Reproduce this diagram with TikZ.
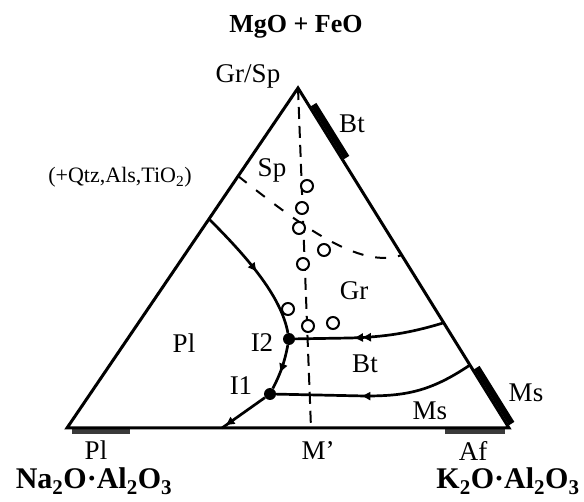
\documentclass[tikz,border=0pt]{standalone}
\usepackage{fontspec}
\setmainfont{Liberation Serif}
\usetikzlibrary{arrows.meta,decorations.markings,calc}
\definecolor{ink}{HTML}{000000}
\definecolor{barfill}{HTML}{3A3A3A}
\tikzset{
  edge/.style={draw=ink, line width=3pt},
  field/.style={draw=ink, line width=2.7pt},
  tie/.style={draw=ink, line width=2pt, dash pattern=on 12pt off 7pt},
  sptie/.style={draw=ink, line width=2pt, dash pattern=on 11pt off 12pt},
  solidbar/.style={draw=ink, line width=6.5pt},
  sample/.style={circle, draw=ink, fill=white, line width=2pt, minimum size=12pt, inner sep=0pt},
  inv/.style={circle, fill=ink, minimum size=12pt, inner sep=0pt},
  lbl/.style={font=\fontsize{27}{30}\selectfont, inner sep=0pt, anchor=base},
  note/.style={font=\fontsize{22}{25}\selectfont, inner sep=0pt, anchor=base},
  ttl/.style={font=\fontsize{26}{29}\selectfont\bfseries, inner sep=0pt, anchor=base},
  oxide/.style={font=\fontsize{30}{33}\selectfont\bfseries, inner sep=0pt, anchor=base},
  flow/.style={postaction={decorate, decoration={markings, mark=at position #1 with {\arrow{Triangle[length=8pt,width=8pt]}}}}},
  flowtwo/.style={postaction={decorate, decoration={markings, mark=at position #1 with {\arrow{Triangle[length=8pt,width=8pt] Triangle[length=8pt,width=8pt]}}}}}
}
\begin{document}
\begin{tikzpicture}[x=1pt, y=-1pt]
\useasboundingbox (0,0) rectangle (584,502);
\coordinate (vtop) at (298,88);
\coordinate (vna) at (67,428);
\coordinate (vk) at (509,428);
\coordinate (mpB) at (311,428);
\coordinate (spL) at (238,176);
\coordinate (spR) at (402,255);
\coordinate (plE) at (209,219);
\coordinate (btE) at (443,323);
\coordinate (msE) at (470,365);
\coordinate (plB) at (222,428);
\fill[barfill] (72,428) rectangle (130,434);
\fill[barfill] (445,428) rectangle (505,434);
\draw[solidbar] (313.6,104.6) -- (346.5,157.6);
\draw[solidbar] (476.8,367.6) -- (511.6,423.6);
\draw[edge] (vtop) -- (vk) -- (vna) -- cycle;
\draw[tie] (vtop) -- (mpB);
\draw[sptie] (spL) .. controls (300,225) and (360,270) .. (spR);
\node[inv] (I2) at (289,339) {};
\node[inv] (I1) at (270,394) {};
\draw[field, flow=0.5] (plE) .. controls (245,255) and (281,295) .. (I2);
\draw[field, flowtwo=0.6] (btE) .. controls (410,333) and (385,337) .. (350,338) -- (I2);
\draw[field, flow=0.57] (msE) .. controls (430,392) and (405,396) .. (365,396) -- (I1);
\draw[field, flow=0.6] (I2) to[bend left=8] (I1);
\draw[field, flow=0.9] (I1) -- (plB);
\node[sample] (s1) at (307,186) {};
\node[sample] (s2) at (302,208) {};
\node[sample] (s3) at (299,228) {};
\node[sample] (s4) at (324,250) {};
\node[sample] (s5) at (303,264) {};
\node[sample] (s6) at (288,309) {};
\node[sample] (s7) at (308,326) {};
\node[sample] (s8) at (333,323) {};
\node[ttl] (title) at (296,33) {MgO + FeO};
\node[lbl] (grsp) at (248,83) {Gr/Sp};
\node[lbl] (bttop) at (352,133) {Bt};
\node[lbl] (sp) at (272,177) {Sp};
\node[note] (extra) at (120,183) {(+Qtz,Als,TiO\textsubscript{2})};
\node[lbl] (plin) at (184,353) {Pl};
\node[lbl] (ltwo) at (262,352) {I2};
\node[lbl] (lone) at (241,395) {I1};
\node[lbl] (gr) at (354,300) {Gr};
\node[lbl] (btin) at (365,373) {Bt};
\node[lbl] (msin) at (430,420) {Ms};
\node[lbl] (msout) at (526,402) {Ms};
\node[lbl] (plout) at (96,460) {Pl};
\node[lbl] (mprime) at (318,460) {M'};
\node[lbl] (af) at (473,461) {Af};
\node[oxide] (naal) at (94,489) {Na\textsubscript{2}O·Al\textsubscript{2}O\textsubscript{3}};
\node[oxide] (kal) at (508,489) {K\textsubscript{2}O·Al\textsubscript{2}O\textsubscript{3}};
\end{tikzpicture}
\end{document}
